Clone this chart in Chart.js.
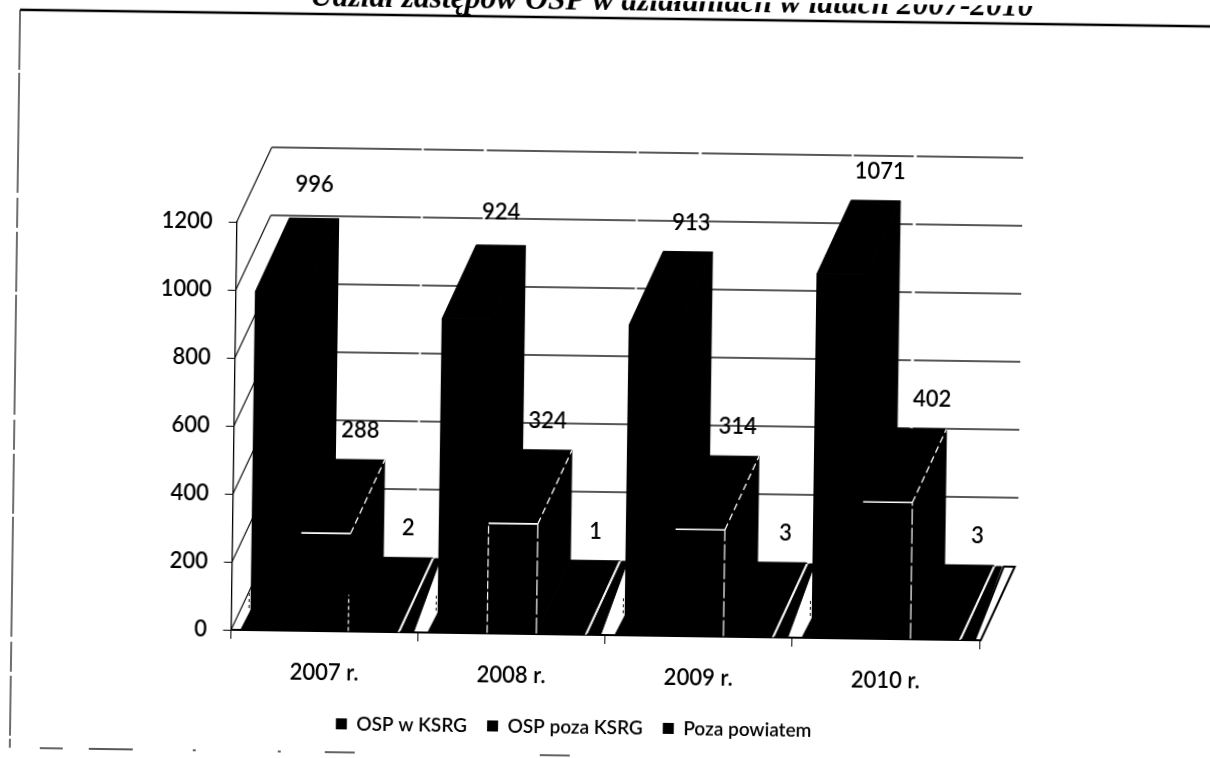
<!DOCTYPE html>
<html>
<head>
<meta charset="utf-8">
<style>
html,body{margin:0;padding:0;background:#fff;overflow:hidden;width:1210px;height:758px}
#w{position:absolute;left:0;top:0;width:1210px;height:758px;transform:rotate(0.8deg);transform-origin:605px 379px}
canvas{display:block}
</style>
<script src="https://cdn.jsdelivr.net/npm/chart.js@4"></script>
</head>
<body>
<div id="w"><canvas id="c" width="1210" height="758"></canvas></div>
<script>
const titleText = "Udział zastępów OSP w działaniach w latach 2007-2010";
const categories = ["2007 r.", "2008 r.", "2009 r.", "2010 r."];
const osp_w_ksrg = [996, 924, 913, 1071];
const osp_poza_ksrg = [288, 324, 314, 402];
const poza_powiatem = [2, 1, 3, 3];
const yTicks = [0, 200, 400, 600, 800, 1000, 1200];

const DX = 33, DY = -74;          // oblique depth of the 3D view
const INK = "#000";

function poly(ctx, pts, fill) {
  ctx.beginPath();
  pts.forEach((p, i) => i ? ctx.lineTo(p[0], p[1]) : ctx.moveTo(p[0], p[1]));
  ctx.closePath();
  if (fill) {
    ctx.fillStyle = fill; ctx.fill();
    ctx.strokeStyle = fill; ctx.lineWidth = 1; ctx.stroke();
  }
}
function seg(ctx, a, b, color, w, dash) {
  ctx.save();
  ctx.strokeStyle = color; ctx.lineWidth = w;
  ctx.setLineDash(dash || []);
  ctx.beginPath(); ctx.moveTo(a[0], a[1]); ctx.lineTo(b[0], b[1]); ctx.stroke();
  ctx.restore();
}

const placePlugin = {
  id: "place",
  afterLayout(chart) {
    const t = chart.titleBlock, l = chart.legend;
    t.left += 175; t.right += 175;
    l.left += 87; l.right += 87;
  }
};

const depthPlugin = {
  id: "depth",
  beforeDatasetsDraw(chart) {
    const ctx = chart.ctx, y = chart.scales.y, a = chart.chartArea;
    const wx = DX + 1, wy = DY - 1;
    ctx.save();
    // back wall grid and slanted side wall rules
    yTicks.forEach(v => {
      const p = y.getPixelForValue(v);
      seg(ctx, [a.left, p], [a.left + wx, p + wy], "#111", 1.2);
      if (v > 0) seg(ctx, [a.left + wx, p + wy], [a.right + wx + 3, p + wy], "#222", 1.4, [150, 2, 60, 3]);
    });
    // floor marks between the groups
    const m3 = chart.getDatasetMeta(2).data, m1 = chart.getDatasetMeta(0).data;
    categories.forEach((c, i) => {
      const b = m3[i], r = b.x + b.width / 2, y0 = a.bottom;
      poly(ctx, [[r + 2, y0], [r + 15, y0], [r + 41, y0 + DY], [r + DX + 2, y0 + DY]], INK);
      const l = m1[i].x - m1[i].width / 2;
      poly(ctx, [[l - 10, y0], [l, y0], [l, y0 - 20]], INK);
      seg(ctx, [l - 2, y0 - 22], [l - 2, y0 - 40], "#111", 1, [3, 3]);
      if (i === categories.length - 1) {
        ctx.strokeStyle = INK; ctx.lineWidth = 2;
        poly(ctx, [[r + 15, y0], [r + 21, y0], [r + 54, y0 + DY], [r + 43, y0 + DY]]);
        ctx.stroke();
      }
    });
    // top, side and backing faces of every column
    chart.data.datasets.forEach((d, di) => {
      chart.getDatasetMeta(di).data.forEach(b => {
        const L = b.x - b.width / 2, R = b.x + b.width / 2, T = b.y, B = b.base;
        poly(ctx, [[L, T], [L + DX, T + DY], [R + DX, T + DY], [R, T]], INK);
        poly(ctx, [[R, T], [R + DX, T + DY], [R + DX, B + DY], [R, B]], INK);
        poly(ctx, [[L, T], [R, T], [R, B], [L, B]], INK);
      });
    });
    ctx.restore();
  },
  afterDatasetsDraw(chart) {
    const ctx = chart.ctx, a = chart.chartArea;
    ctx.save();
    // the pale edges that survive on the black columns
    chart.getDatasetMeta(1).data.forEach((b, i) => {
      const L = b.x - b.width / 2, R = b.x + b.width / 2, T = b.y, B = b.base;
      seg(ctx, [L, T], [R, T], "#fff", 1.6);
      seg(ctx, [R, T], [R + DX, T + DY], "#fff", 1.3, [7, 4]);
      if (i === 0) seg(ctx, [R - 1, B], [R - 1, B - 36], "#fff", 1.2, [4, 3]);
      else seg(ctx, [R, B], [R, T], "#fff", 1.2, [16, 3]);
      if (i === 1) seg(ctx, [L, B], [L, T], "#fff", 1.2, [8, 3]);
    });
    chart.getDatasetMeta(2).data.forEach(b => {
      const R = b.x + b.width / 2, y0 = a.bottom;
      seg(ctx, [R, y0], [R + DX, y0 + DY], "#fff", 1.5);
    });
    // value labels above the back edge of each column
    ctx.fillStyle = INK;
    ctx.font = "600 22px Lato";
    ctx.textAlign = "center";
    ctx.textBaseline = "middle";
    chart.data.datasets.forEach((d, di) => {
      chart.getDatasetMeta(di).data.forEach((b, i) => {
        const nx = i === 3 ? [4, 10, 8][di] : (i === 2 ? 3 : 0);
        const ny = di === 0 && i < 2 ? -4 : 0;
        ctx.fillText(String(d.data[i]), b.x + DX + nx, b.y + DY - 29 + ny);
      });
    });
    ctx.restore();
  }
};

const framePlugin = {
  id: "frame",
  beforeDraw(chart) {
    const ctx = chart.ctx;
    seg(ctx, [15, 18], [1225, 18], INK, 2.4);
    seg(ctx, [15, 18], [15, 756], "#222", 1.3, [60, 3, 120, 5, 30, 4]);
    [[45, 68], [94, 138], [198, 201], [283, 286], [330, 360], [545, 575]].forEach(s => {
      seg(ctx, [s[0], 756], [s[1], 756], "#222", 1.4);
    });
  }
};

new Chart(document.getElementById("c"), {
  type: "bar",
  data: {
    labels: categories,
    datasets: [
      { label: "OSP w KSRG", data: osp_w_ksrg, backgroundColor: INK },
      { label: "OSP poza KSRG", data: osp_poza_ksrg, backgroundColor: INK },
      { label: "Poza powiatem", data: poza_powiatem, backgroundColor: INK }
    ]
  },
  options: {
    responsive: false,
    animation: false,
    layout: { padding: { left: 0, right: 227, top: 0, bottom: 11 } },
    datasets: { bar: { categoryPercentage: 0.79, barPercentage: 1 } },
    plugins: {
      tooltip: { enabled: false },
      title: {
        display: true,
        text: titleText,
        color: INK,
        align: "center",
        font: { family: "Liberation Serif", size: 31.5, weight: "bold", style: "italic" },
        padding: { top: -17, bottom: 206.2 }
      },
      legend: {
        display: true,
        position: "bottom",
        labels: {
          color: INK, boxWidth: 11, boxHeight: 11, padding: 20,
          font: { family: "Lato", size: 19, weight: "600" }
        }
      }
    },
    scales: {
      x: {
        afterFit(s) { s.height = 63; },
        border: { display: true, color: INK, width: 2 },
        grid: { display: true, drawOnChartArea: false, drawTicks: true, tickLength: 9, color: INK, offset: true },
        ticks: { color: INK, padding: 20, font: { family: "Lato", size: 22, weight: "600" }, maxRotation: 0 }
      },
      y: {
        min: 0, max: 1200,
        afterFit(s) { s.width = 234.6; },
        afterBuildTicks(s) { s.ticks = yTicks.map(v => ({ value: v })); },
        border: { display: true, color: INK, width: 1.3 },
        grid: { display: true, drawOnChartArea: false, drawTicks: true, tickLength: 8, color: INK },
        ticks: { color: INK, padding: 16, font: { family: "Lato", size: 22, weight: "600" }, callback: v => String(v) }
      }
    }
  },
  plugins: [placePlugin, framePlugin, depthPlugin]
});
</script>
</body>
</html>
